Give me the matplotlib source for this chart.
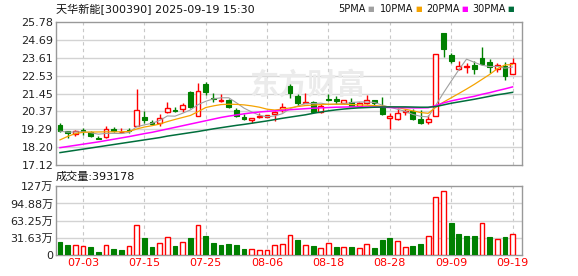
import numpy as np
import pandas as pd
import matplotlib
matplotlib.use('Agg')
import matplotlib.pyplot as plt

plt.rcParams['font.family'] = ['DejaVu Sans', 'Noto Sans CJK SC']

# trading days 2025-06-30 .. 2025-09-19
dates = pd.bdate_range('2025-06-30', '2025-09-19')
tick_dates = ['07-03', '07-15', '07-25', '08-06', '08-18', '08-28', '09-09', '09-19']

open_ = [19.55, 19.15, 19.01, 19.21, 19.11, 18.77, 18.79, 19.31, 19.11, 19.25,
         19.51, 20.03, 19.73, 19.67, 20.31, 20.43, 20.51, 21.55, 20.11, 22.01,
         21.17, 21.01, 21.05, 20.45, 20.01, 19.85, 20.01, 20.05, 20.19, 20.45,
         21.91, 21.29, 20.89, 20.93, 20.35, 21.13, 21.11, 20.85, 20.91, 20.71,
         20.85, 21.03, 20.71, 19.95, 19.89, 20.33, 20.41, 19.93, 19.73, 20.11,
         25.11, 23.79, 22.93, 23.03, 23.17, 23.57, 23.37, 22.93, 23.13, 22.61]
close = [19.17, 19.05, 19.15, 19.17, 18.85, 18.71, 19.29, 19.15, 19.13, 19.19,
         20.43, 19.85, 19.63, 19.99, 20.55, 20.37, 20.75, 20.61, 21.61, 21.55,
         21.11, 21.07, 20.61, 20.11, 19.91, 19.95, 20.09, 20.15, 20.35, 20.61,
         21.47, 20.87, 20.93, 20.35, 20.71, 21.07, 20.99, 21.03, 20.71, 20.89,
         21.05, 20.85, 20.23, 20.07, 20.29, 20.41, 19.91, 19.67, 19.89, 23.87,
         24.13, 23.43, 23.13, 23.09, 22.93, 23.23, 23.03, 23.19, 22.53, 23.29]
high = [19.67, 19.19, 19.23, 19.39, 19.19, 18.89, 19.49, 19.43, 19.39, 19.39,
        21.71, 20.39, 19.87, 20.19, 20.91, 20.63, 20.89, 21.59, 22.07, 22.15,
        21.51, 21.41, 21.11, 20.55, 20.21, 19.95, 20.29, 20.17, 20.41, 20.87,
        22.01, 21.45, 21.51, 20.97, 20.81, 21.41, 21.27, 21.07, 21.17, 20.91,
        21.35, 21.07, 21.21, 20.27, 20.59, 20.53, 20.53, 20.47, 20.17, 23.87,
        25.11, 23.93, 23.41, 23.31, 23.41, 24.27, 23.53, 23.27, 23.33, 23.61]
low = [19.11, 18.75, 18.87, 18.91, 18.81, 18.69, 18.75, 19.11, 19.09, 19.07,
       19.51, 19.65, 19.59, 19.51, 20.29, 20.31, 20.33, 20.57, 20.11, 21.35,
       20.95, 20.91, 20.55, 20.01, 19.85, 19.65, 19.95, 20.03, 19.81, 20.35,
       21.15, 20.71, 20.85, 20.31, 20.27, 20.97, 20.81, 20.81, 20.67, 20.67,
       20.81, 20.75, 20.15, 19.31, 19.83, 20.13, 19.85, 19.61, 19.63, 20.11,
       23.69, 23.31, 22.87, 22.71, 22.65, 23.17, 22.67, 22.73, 22.25, 22.61]
prev_close = 19.30

ma10 = [18.64, 18.85, 19.02, 19.10, 19.12, 19.12, 19.13, 19.13, 19.13, 19.15,
        19.30, 19.42, 19.50, 19.60, 19.75, 19.88, 20.00, 20.12, 20.35, 20.60,
        20.70, 20.78, 20.80, 20.79, 20.76, 20.70, 20.62, 20.50, 20.45, 20.50,
        20.58, 20.66, 20.72, 20.75, 20.78, 20.80, 20.80, 20.80, 20.78, 20.76,
        20.74, 20.72, 20.68, 20.64, 20.60, 20.50, 20.40, 20.30, 20.25, 20.62,
        20.93, 21.19, 21.45, 21.72, 22.00, 22.30, 22.60, 22.95, 23.18, 23.20]
ma20 = [18.17, 18.24, 18.31, 18.38, 18.45, 18.52, 18.60, 18.68, 18.76, 18.84,
        18.93, 19.02, 19.10, 19.20, 19.30, 19.40, 19.50, 19.60, 19.70, 19.80,
        19.90, 20.00, 20.08, 20.15, 20.22, 20.28, 20.33, 20.37, 20.40, 20.43,
        20.47, 20.50, 20.53, 20.56, 20.58, 20.60, 20.62, 20.63, 20.64, 20.64,
        20.64, 20.63, 20.62, 20.60, 20.59, 20.59, 20.58, 20.58, 20.59, 20.72,
        20.88, 21.00, 21.10, 21.19, 21.28, 21.40, 21.50, 21.62, 21.73, 21.85]
ma30 = [17.87, 17.94, 18.01, 18.08, 18.15, 18.22, 18.29, 18.36, 18.43, 18.50,
        18.57, 18.64, 18.71, 18.78, 18.87, 18.94, 19.01, 19.08, 19.15, 19.23,
        19.31, 19.38, 19.45, 19.52, 19.58, 19.65, 19.72, 19.79, 19.87, 19.95,
        20.02, 20.09, 20.16, 20.25, 20.33, 20.40, 20.46, 20.51, 20.55, 20.58,
        20.60, 20.62, 20.63, 20.64, 20.64, 20.64, 20.63, 20.62, 20.62, 20.66,
        20.76, 20.86, 20.94, 21.02, 21.10, 21.19, 21.28, 21.37, 21.44, 21.52]

# volume in 万
volume = [23.9, 18.4, 17.8, 16.0, 14.7, 5.5, 17.8, 11.0, 9.2, 16.0,
          55.2, 31.3, 14.7, 22.1, 32.5, 16.6, 23.9, 31.3, 55.2, 35.0,
          22.1, 18.4, 20.2, 18.4, 11.0, 10.4, 8.6, 8.6, 17.8, 20.2,
          36.2, 27.6, 17.8, 16.6, 12.3, 21.5, 14.7, 14.1, 14.7, 12.3,
          19.6, 12.9, 27.6, 31.3, 25.2, 14.1, 16.6, 20.2, 34.4, 106.1,
          117.2, 58.9, 38.7, 35.0, 35.0, 58.9, 33.1, 28.8, 33.1, 39.3]

price_ticks = [17.12, 18.20, 19.29, 20.37, 21.45, 22.53, 23.61, 24.69, 25.78]
vol_ticks = [0, 31.63, 63.25, 94.88, 127]
vol_labels = ['0', '31.63万', '63.25万', '94.88万', '127万']

RED = '#ff0000'
GREEN = '#008000'
GRID = '#d3d3d3'
FRAME = '#999999'

o = np.array(open_); c = np.array(close); h = np.array(high); l = np.array(low)
x = np.arange(len(dates))
labels = dates.strftime('%m-%d')
tick_pos = [i for i, d in enumerate(labels) if d in tick_dates]
ma5 = pd.Series(c).rolling(5, min_periods=1).mean()

fig = plt.figure(figsize=(5.78, 2.76), dpi=100)
ax = fig.add_axes([56/578, 1-165/276, 466/578, 143/276])
axv = fig.add_axes([56/578, 1-255/276, 466/578, 69/276])

for a in (ax, axv):
    a.set_xlim(-0.52, 60.23)
    for s in a.spines.values():
        s.set_color(FRAME)
        s.set_linewidth(1)
    a.tick_params(length=0, pad=2, labelsize=8, colors='#222222')
    a.set_xticks(tick_pos)
    for p in tick_pos:
        a.axvline(p, color='#c8c8c8', lw=0.8, ls=(0, (3, 3)), zorder=0)

# price panel
ax.set_ylim(17.12, 25.78)
ax.set_yticks(price_ticks)
ax.set_yticklabels(['%.2f' % t for t in price_ticks])
for t in price_ticks[1:-1]:
    ax.axhline(t, color=GRID, lw=1, zorder=0)
ax.set_xticklabels([])
ax.text(0.54, 0.56, '东方财富', transform=ax.transAxes, ha='center', va='center',
        fontsize=21, color='#ebebeb', fontweight='bold',
        family=['Noto Sans CJK SC'], zorder=0)

up = c >= o
w = 0.62
body_lo = np.minimum(o, c)
body_h = np.maximum(np.abs(c - o), 0.025)
ax.vlines(x[up], l[up], h[up], color=RED, lw=1, zorder=2)
ax.vlines(x[~up], l[~up], h[~up], color=GREEN, lw=1, zorder=2)
ax.bar(x[up], body_h[up], w, bottom=body_lo[up], facecolor='white',
       edgecolor=RED, lw=1, zorder=3)
ax.bar(x[~up], body_h[~up], w, bottom=body_lo[~up], facecolor=GREEN,
       edgecolor=GREEN, lw=0.8, zorder=3)

ax.plot(x, ma5, color='#a0a0a0', lw=0.8, zorder=4)
ax.plot(x, ma10, color='#f5a300', lw=0.9, zorder=4)
ax.plot(x, ma20, color='#ff00ff', lw=1.1, zorder=4)
ax.plot(x, ma30, color='#006e3c', lw=1.1, zorder=4)

# title and legend
fig.text(56/578, 1-10/276, '天华新能[300390] 2025-09-19 15:30', fontsize=8,
         va='center', ha='left', color='#111111')
legend_items = [('5PMA', '#a0a0a0', 338), ('10PMA', '#f5a300', 380),
                ('20PMA', '#ff00ff', 426), ('30PMA', '#006e3c', 472)]
for name, col, px in legend_items:
    t = fig.text(px/578, 1-9/276, name, fontsize=7, va='center', ha='left', color='#111111')
    fig.text((px + 29 + (6 if name != '5PMA' else 0))/578, 1-9/276, '■',
             fontsize=5, va='center', ha='left', color=col)

# volume panel
axv.set_ylim(0, 127)
axv.set_yticks(vol_ticks)
axv.set_yticklabels(vol_labels)
for t in vol_ticks[1:-1]:
    axv.axhline(t, color=GRID, lw=1, zorder=0)
axv.set_xticklabels(tick_dates, color=RED)
prev = np.concatenate([[prev_close], c[:-1]])
vup = c > prev
axv.bar(x[vup], np.array(volume)[vup], w, facecolor='white', edgecolor=RED, lw=1, zorder=3)
axv.bar(x[~vup], np.array(volume)[~vup], w, facecolor=GREEN, edgecolor=GREEN, lw=0.8, zorder=3)
fig.text(56/578, 1-177/276, '成交量:393178', fontsize=8, va='center', ha='left',
         color='#111111')

fig.savefig('out.png', dpi=100, facecolor='white')
